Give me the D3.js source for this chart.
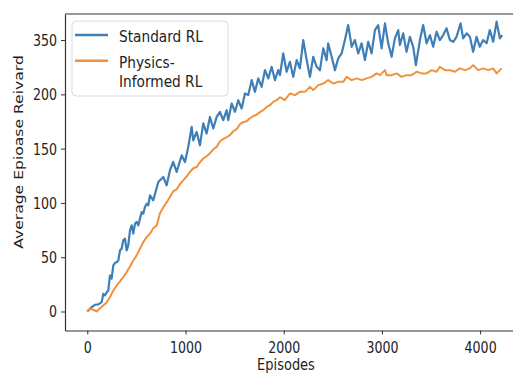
<!DOCTYPE html>
<html>
<head>
<meta charset="utf-8">
<script src="https://cdn.jsdelivr.net/npm/d3@7"></script>
<style>
  html, body { margin: 0; padding: 0; background: #fff; }
  svg { display: block; }
  text { font-family: "DejaVu Sans", sans-serif; fill: #222; }
</style>
</head>
<body>
<svg id="chart" width="513" height="374"></svg>
<script>
// ---- data ----
const seriesNames = ["Standard RL", "Physics-Informed RL"];
const legendLines = [["Standard RL"], ["Physics-", "Informed RL"]];

const standardEpisodes = [0,45,78,112,147,163,180,198,214,231,248,265,282,299,316,333,350,366,384,401,417,435,452,468,486,503,519,536,554,570,587,605,621,638,672,723,774,808,842,875,910,961,995,1028,1063,1079,1114,1147,1181,1215,1249,1283,1317,1351,1384,1419,1435,1470,1504,1537,1572,1605,1639,1674,1707,1741,1775,1809,1843,1877,1911,1944,1962,1995,2030,2063,2097,2132,2165,2199,2234,2267,2301,2335,2369,2403,2437,2453,2488,2522,2555,2590,2623,2657,2692,2725,2759,2793,2827,2861,2895,2929,2962,2997,3031,3064,3099,3132,3166,3183,3217,3251,3285,3319,3346,3387,3420,3455,3489,3522,3557,3590,3624,3658,3692,3726,3760,3801,3827,3862,3896,3929,3964,3997,4031,4066,4099,4133,4168,4201,4225];
const standardReward = [0,4.0,6.2,6.5,8.6,16.3,14.8,17.8,19.4,33.2,30.2,42.4,44.6,45.5,47.0,56.3,57.8,65.5,67.1,56.3,60.9,74.7,79.3,71.7,80.9,82.4,79.3,85.5,91.6,90.1,96.2,99.3,97.8,107,102.4,119.3,123.9,116.2,130.1,137.7,128.5,143.9,137.7,151.6,170,157.7,165.4,153.1,173.2,163.9,179.2,168.5,179.2,183.9,176.2,185.4,176.2,191.6,183.9,194.6,187,200.8,199.3,213.1,202.3,214.7,206.9,222.3,214.7,225.4,213.1,222.3,217.7,237.7,220.8,230,216.1,231.5,223.9,250,231.5,216.1,234.6,225.4,222.3,242.3,231.5,246.9,234.6,222.3,233.1,237.7,250,263.8,243.8,250,237.7,247,231.5,248.4,237.7,259.2,263.8,242.3,265.4,247,234.6,251.6,259.2,245.4,256.2,239.2,253,243.8,226.9,250,263.8,247,254.6,243.8,257.7,250,254.6,260.8,250,248.4,253,265.4,251.6,256.2,253,239.2,253,243.8,250,247,259.2,248.4,266.9,251.6,254.6];

const physicsEpisodes = [0,27,61,96,129,163,198,231,265,299,333,366,401,435,468,503,536,570,605,638,672,707,740,774,808,842,875,910,943,977,1012,1045,1079,1114,1147,1181,1215,1249,1283,1317,1351,1384,1419,1453,1486,1521,1555,1588,1623,1656,1690,1725,1758,1792,1826,1860,1893,1928,1962,2012,2063,2114,2165,2216,2267,2301,2352,2403,2453,2504,2555,2606,2641,2692,2743,2793,2844,2895,2946,2980,3031,3048,3099,3150,3201,3252,3302,3353,3404,3455,3506,3557,3590,3641,3692,3743,3794,3845,3896,3929,3980,4031,4082,4133,4168,4219];
const physicsReward = [0,2.5,1.6,0,3.0,5.5,8.6,13.2,19.4,24,27.7,31.6,36.3,41.5,47,51.7,57.8,63.9,68.5,71.7,76.6,79.3,90.4,95.9,100.6,105.4,110.7,112.5,117.2,120.8,124.5,128.5,131.9,133.1,137.5,140.9,143,145.8,149.4,151.6,156.8,158.7,160.5,162.4,166,167.9,172.5,174.4,175.3,178,179.9,181.3,183.6,185.4,188.5,190,193.1,194.6,197.4,194.6,200.8,199.3,202.3,202.3,206.9,203.9,208.5,210,213.1,210,211.5,211.5,216.1,213.1,214.7,213.1,214.7,216.1,219.3,217.7,222.3,217.7,217.7,219.3,216.1,217.7,217.7,220.8,219.3,219.3,222.3,220.8,225.4,222.3,222.3,220.8,223.9,222.3,223.9,226.9,222.3,223.9,222.3,223.9,219.3,223.9];

const xTickValues = [0, 1000, 2000, 3000, 4000];
const yTickValues = [0, 50, 100, 150, 200, 250];
const yTickLabels = ["0", "50", "100", "150", "200", "350"];
const xAxisTitle = "Episodes";
const yAxisTitle = "Average Epioase Reivard";
const colors = ["#3f7fb8", "#f0923c"];

// ---- drawing ----
const svg = d3.select("#chart");
const SY = 1.2; // vertical stretch of the reference's text

const x = d3.scaleLinear().domain([-227, 4400]).range([65, 519.4]);
const y = d3.scaleLinear().domain([-17.5, 274]).range([330.5, 14]);

const series = [
  { name: seriesNames[0], data: standardEpisodes.map((e, i) => [e, standardReward[i]]) },
  { name: seriesNames[1], data: physicsEpisodes.map((e, i) => [e, physicsReward[i]]) }
];

const line = d3.line().x(d => x(d[0])).y(d => y(d[1]));

const plot = svg.append("g");
series.forEach((s, i) => {
  plot.append("path")
    .datum(s.data)
    .attr("fill", "none")
    .attr("stroke", colors[i])
    .attr("stroke-width", i === 0 ? 2.2 : 2)
    .attr("stroke-linejoin", "round")
    .attr("d", line);
});

// top spine
svg.append("line")
  .attr("x1", 65).attr("x2", 519.4).attr("y1", 14).attr("y2", 14)
  .attr("stroke", "#333").attr("stroke-width", 1.2);

// axes
const yAxis = d3.axisLeft(y).tickValues(yTickValues)
  .tickFormat((d, i) => yTickLabels[i]).tickSize(4).tickSizeOuter(0);
const gy = svg.append("g").attr("transform", "translate(65,0)").call(yAxis);
gy.select(".domain").attr("stroke", "#333").attr("stroke-width", 1.2);
gy.selectAll(".tick line").attr("stroke", "#333").attr("stroke-width", 1);
gy.selectAll(".tick text")
  .attr("x", -8).attr("y", 5.5 / SY).attr("dy", null)
  .attr("transform", `scale(1,${SY})`)
  .style("font-size", "12.6px").style("font-family", "DejaVu Sans").attr("fill", "#222");

const xAxis = d3.axisBottom(x).tickValues(xTickValues)
  .tickFormat(d3.format("d")).tickSize(4).tickSizeOuter(0);
const gx = svg.append("g").attr("transform", "translate(0,330.5)").call(xAxis);
gx.select(".domain").attr("stroke", "#333").attr("stroke-width", 1.2);
gx.selectAll(".tick line").attr("stroke", "#333").attr("stroke-width", 1);
gx.selectAll(".tick text")
  .attr("y", 22.5 / SY).attr("dy", null)
  .attr("transform", `scale(1,${SY})`)
  .style("font-size", "12.6px").style("font-family", "DejaVu Sans").attr("fill", "#222");

// axis titles
svg.append("text")
  .attr("transform", `translate(286,370) scale(1,${SY})`)
  .attr("text-anchor", "middle")
  .style("font-size", "13px")
  .text(xAxisTitle);

svg.append("text")
  .attr("transform", `translate(23,152) scale(1,${SY}) rotate(-90)`)
  .attr("text-anchor", "middle")
  .style("font-size", "13px")
  .text(yAxisTitle);

// legend
const lg = svg.append("g");
lg.append("rect")
  .attr("x", 72).attr("y", 21).attr("width", 156).attr("height", 75)
  .attr("rx", 4).attr("fill", "#fff").attr("fill-opacity", 0.85)
  .attr("stroke", "#dcdcdc").attr("stroke-width", 1);
const legendLineY = [35, 60.7];
const legendTextBase = [41.7, 67.5];
legendLines.forEach((rows, i) => {
  lg.append("line")
    .attr("x1", 75).attr("x2", 108)
    .attr("y1", legendLineY[i]).attr("y2", legendLineY[i])
    .attr("stroke", colors[i]).attr("stroke-width", 2.6);
  rows.forEach((r, j) => {
    lg.append("text")
      .attr("transform", `translate(119,${legendTextBase[i] + j * 19.2}) scale(1,${SY})`)
      .style("font-size", "13.7px")
      .text(r);
  });
});
</script>
</body>
</html>
